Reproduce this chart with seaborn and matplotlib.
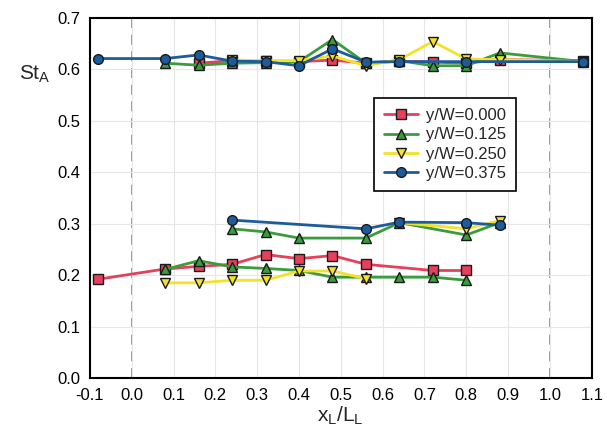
import numpy as np
import pandas as pd
import seaborn as sns
from matplotlib import pyplot as plt

sns.set_style('white')
plt.rcParams['font.family'] = ['Liberation Sans', 'DejaVu Sans']
plt.rcParams['font.size'] = 12

labels = ['y/W=0.000', 'y/W=0.125', 'y/W=0.250', 'y/W=0.375']
colors = ['#e5405c', '#3a9c3c', '#f2e22a', '#1d5c9c']
markers = ['s', '^', 'v', 'o']

# upper group (St_A ~ 0.62)
x_up_000 = [0.16, 0.24, 0.32, 0.40, 0.48, 0.56, 0.64, 0.72, 0.80, 0.88, 1.08]
y_up_000 = [0.612, 0.617, 0.616, 0.615, 0.618, 0.612, 0.616, 0.614, 0.612, 0.619, 0.617]
x_up_125 = [0.08, 0.16, 0.24, 0.32, 0.40, 0.48, 0.56, 0.64, 0.72, 0.80, 0.88, 1.08]
y_up_125 = [0.612, 0.608, 0.612, 0.613, 0.615, 0.658, 0.612, 0.617, 0.607, 0.607, 0.632, 0.615]
x_up_250 = [0.24, 0.32, 0.40, 0.48, 0.56, 0.64, 0.72, 0.80, 0.88, 1.08]
y_up_250 = [0.618, 0.617, 0.617, 0.626, 0.607, 0.619, 0.654, 0.620, 0.619, 0.615]
x_up_375 = [-0.08, 0.08, 0.16, 0.24, 0.32, 0.40, 0.48, 0.56, 0.64, 0.80, 1.08]
y_up_375 = [0.621, 0.621, 0.628, 0.616, 0.615, 0.607, 0.640, 0.614, 0.615, 0.615, 0.615]

# lower group (St_A ~ 0.2 - 0.3)
x_lo_000 = [-0.08, 0.08, 0.16, 0.24, 0.32, 0.40, 0.48, 0.56, 0.72, 0.80]
y_lo_000 = [0.192, 0.212, 0.217, 0.221, 0.240, 0.232, 0.238, 0.221, 0.209, 0.209]
x_lo_125 = [0.08, 0.16, 0.24, 0.32, 0.40, 0.48, 0.56, 0.64, 0.72, 0.80]
y_lo_125 = [0.211, 0.228, 0.216, 0.213, 0.209, 0.196, 0.196, 0.196, 0.196, 0.190]
x_lo_250 = [0.08, 0.16, 0.24, 0.32, 0.40, 0.48, 0.56]
y_lo_250 = [0.185, 0.185, 0.190, 0.190, 0.208, 0.208, 0.193]
x_mid_125 = [0.24, 0.32, 0.40, 0.56, 0.64, 0.80, 0.88]
y_mid_125 = [0.290, 0.284, 0.272, 0.272, 0.302, 0.278, 0.302]
x_mid_250 = [0.64, 0.80, 0.88]
y_mid_250 = [0.302, 0.290, 0.306]
x_mid_375 = [0.24, 0.56, 0.64, 0.80, 0.88]
y_mid_375 = [0.307, 0.290, 0.303, 0.302, 0.297]

groups = [
    [(x_lo_000, y_lo_000), (x_up_000, y_up_000)],
    [(x_lo_125, y_lo_125), (x_mid_125, y_mid_125), (x_up_125, y_up_125)],
    [(x_lo_250, y_lo_250), (x_mid_250, y_mid_250), (x_up_250, y_up_250)],
    [(x_mid_375, y_mid_375), (x_up_375, y_up_375)],
]

fig = plt.figure(figsize=(6.07, 4.37), dpi=100)
ax = fig.add_axes([0.148, 0.135, 0.827, 0.824])

for i in range(4):
    for j, (xs, ys) in enumerate(groups[i]):
        df = pd.DataFrame({'x': xs, 'y': ys})
        sns.lineplot(data=df, x='x', y='y', ax=ax, color=colors[i], marker=markers[i],
                     markersize=7, markeredgecolor='#1a1a1a', markeredgewidth=1.0,
                     linewidth=2, sort=False, estimator=None,
                     label=labels[i] if j == 0 else None, legend=False)

ax.axvline(0.0, color='#888888', linestyle=(0, (6, 4)), linewidth=1.2, zorder=0)
ax.axvline(1.0, color='#888888', linestyle=(0, (6, 4)), linewidth=1.2, zorder=0)

ax.set_xlim(-0.1, 1.1)
ax.set_ylim(0.0, 0.7)
ax.set_xticks(np.arange(-0.1, 1.11, 0.1))
ax.set_xticklabels(['%.1f' % v for v in np.arange(-0.1, 1.11, 0.1)])
ax.set_yticks(np.arange(0, 0.71, 0.1))
ax.set_yticklabels(['%.1f' % v for v in np.arange(0, 0.71, 0.1)])
ax.grid(True, color='#e6e6e6', linewidth=0.8)
ax.set_axisbelow(True)
ax.tick_params(direction='inout', length=7, width=1.2, colors='black', labelsize=12)
for s in ax.spines.values():
    s.set_color('black')
    s.set_linewidth(1.5)

ax.set_xlabel('x$_\\mathregular{L}$/L$_\\mathregular{L}$', fontsize=15, labelpad=1)
ax.set_ylabel('')
fig.text(0.058, 0.83, 'St$_\\mathregular{A}$', fontsize=15, ha='center', va='center')

handles, labs = ax.get_legend_handles_labels()
leg = ax.legend(handles, labs, loc='upper left', bbox_to_anchor=(0.55, 0.80),
                fancybox=False, framealpha=1, edgecolor='black', fontsize=12,
                handlelength=2.0, handletextpad=0.5, borderpad=0.6, labelspacing=0.25)
leg.get_frame().set_linewidth(1.2)

plt.savefig('out.png', dpi=100)
